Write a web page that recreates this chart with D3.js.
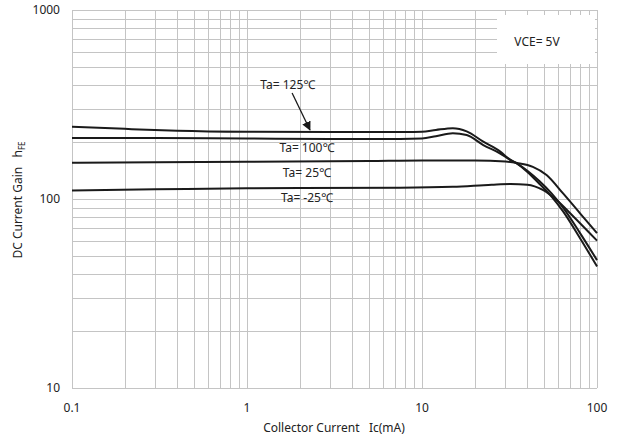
<!DOCTYPE html>
<html>
<head>
<meta charset="utf-8">
<script src="https://cdn.jsdelivr.net/npm/d3@7"></script>
<style>
  body { margin: 0; background: #fff; }
  svg text { font-family: "Noto Sans", "Open Sans", sans-serif; fill: #222; }
  .grid line { stroke: #c4c4c4; stroke-width: 1; }
  .curve { fill: none; stroke: #1a1a1a; stroke-width: 2; }
</style>
</head>
<body>
<div id="chart"></div>
<script>

// collector current (mA) vs DC current gain, one array per temperature
var ta125 = [[0.1,241],[0.2,235],[0.4,230],[1,227],[3,226],[8,226],[10,227],[12,232],[15,237],[18,228],[22.4,201],[28,178],[32,161],[35,154],[40,139],[47,120],[55,103],[64,86],[80,62],[100,44]]
var ta100 = [[0.1,210],[0.3,210],[1,209],[3,208],[7.5,208],[10,209],[12,215],[15,223],[18,218],[22.4,193],[28,174],[32,161],[35,154],[40,141],[47,124],[55,107],[64,90],[80,66],[100,47.5]]
var ta25 = [[0.1,155.5],[0.3,156.5],[1,157.5],[5,159],[10,160],[20,160],[30,158],[35,155],[43,148],[51.5,134],[64,107],[80,84],[100,66]]
var taM25 = [[0.1,111],[0.3,112.5],[1,114],[7.5,114.7],[15,116],[25,119],[32,120],[40,119],[49,111.6],[58.5,99],[73.5,80.6],[100,60.2]]

var seriesList = [ta125, ta100, ta25, taM25]

var xTicks = [0.1, 1, 10, 100]
var yTicks = [10, 100, 1000]

var curveLabels = [
  {text: "Ta= 125\u2103", x: 1.71, y: 401},
  {text: "Ta= 100\u2103", x: 2.2, y: 185.5},
  {text: "Ta= 25\u2103", x: 2.2, y: 136.8},
  {text: "Ta= -25\u2103", x: 2.2, y: 100.9}
]

var width = 622, height = 441
var margin = {top: 10, right: 25, bottom: 53, left: 72}

var svg = d3.select("#chart").append("svg")
  .attr("width", width)
  .attr("height", height)

var x = d3.scaleLog().domain([0.1, 100]).range([margin.left, width - margin.right])
var y = d3.scaleLog().domain([10, 1000]).range([height - margin.bottom, margin.top])

// minor + major grid lines (1..9 per decade)
var xGrid = [], yGrid = []
for (var d = 0.1; d < 100; d *= 10) {
  for (var k = 1; k <= 10; k++) xGrid.push(+(d * k).toPrecision(3))
}
for (var d = 10; d < 1000; d *= 10) {
  for (var k = 1; k <= 10; k++) yGrid.push(+(d * k).toPrecision(3))
}

var grid = svg.append("g").attr("class", "grid")
grid.selectAll(".vx").data(xGrid).enter().append("line")
  .attr("x1", function(d){ return Math.round(x(d)) + 0.5 })
  .attr("x2", function(d){ return Math.round(x(d)) + 0.5 })
  .attr("y1", y(1000)).attr("y2", y(10))
grid.selectAll(".hy").data(yGrid).enter().append("line")
  .attr("y1", function(d){ return Math.round(y(d)) + 0.5 })
  .attr("y2", function(d){ return Math.round(y(d)) + 0.5 })
  .attr("x1", x(0.1)).attr("x2", x(100))

// VCE box covers the grid
svg.append("rect")
  .attr("x", 497).attr("y", 15).attr("width", 98).attr("height", 49)
  .attr("fill", "#fff")
svg.append("text")
  .attr("x", 537).attr("y", 46)
  .attr("text-anchor", "middle")
  .style("font-size", "12px")
  .text("VCE= 5V")

// tick labels
svg.selectAll(".xt").data(xTicks).enter().append("text")
  .attr("x", function(d){ return x(d) })
  .attr("y", y(10) + 24)
  .attr("text-anchor", "middle")
  .style("font-size", "12px")
  .text(function(d){ return d })

svg.selectAll(".yt").data(yTicks).enter().append("text")
  .attr("x", margin.left - 12)
  .attr("y", function(d){ return y(d) + 4 })
  .attr("text-anchor", "end")
  .style("font-size", "12px")
  .text(function(d){ return d })

// axis titles
svg.append("text")
  .attr("x", 334).attr("y", 432)
  .attr("text-anchor", "middle")
  .style("font-size", "12px")
  .text("Collector Current\u00a0\u00a0\u00a0Ic(mA)")

var yt = svg.append("text")
  .attr("transform", "translate(22,200) rotate(-90)")
  .attr("text-anchor", "middle")
  .style("font-size", "12px")
yt.append("tspan").text("DC Current Gain\u00a0\u00a0\u00a0h")
yt.append("tspan").attr("dy", 3).style("font-size", "8px").text("FE")

// curves
var line = d3.line()
  .x(function(d){ return x(d[0]) })
  .y(function(d){ return y(d[1]) })
  .curve(d3.curveMonotoneX)

svg.selectAll(".curve").data(seriesList).enter().append("path")
  .attr("class", "curve")
  .attr("d", line)

// curve labels
svg.selectAll(".lbl").data(curveLabels).enter().append("text")
  .attr("x", function(d){ return x(d.x) })
  .attr("y", function(d){ return y(d.y) + 4 })
  .attr("text-anchor", "middle")
  .style("font-size", "12px")
  .text(function(d){ return d.text })

// arrow from the 125 label to its curve
svg.append("defs").append("marker")
  .attr("id", "arr")
  .attr("viewBox", "0 0 10 10")
  .attr("refX", 9).attr("refY", 5)
  .attr("markerWidth", 7).attr("markerHeight", 7)
  .attr("orient", "auto")
  .append("path").attr("d", "M0,0 L10,5 L0,10 z").attr("fill", "#1a1a1a")

svg.append("line")
  .attr("x1", x(1.81)).attr("y1", y(364))
  .attr("x2", x(2.29)).attr("y2", y(232))
  .attr("stroke", "#1a1a1a").attr("stroke-width", 1.3)
  .attr("marker-end", "url(#arr)")

</script>
</body>
</html>
